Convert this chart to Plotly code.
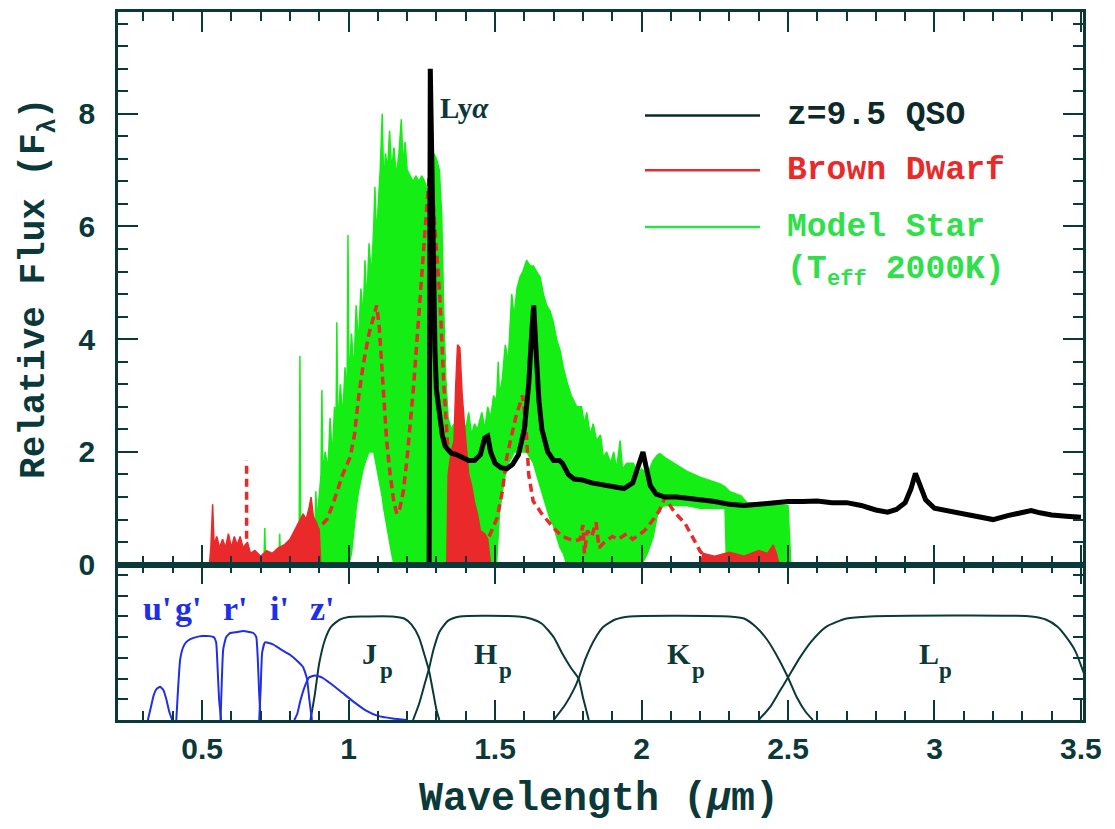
import plotly.graph_objects as go

# ---------------- data ----------------
# QSO z=9.5 spectrum (wavelength um, relative flux)
qso_wl = [0.32, 1.275, 1.279, 1.285, 1.29, 1.295, 1.30, 1.31, 1.32, 1.33, 1.35, 1.37, 1.39, 1.41, 1.43,
          1.45, 1.465, 1.475, 1.485, 1.50, 1.52, 1.54, 1.56, 1.58, 1.60, 1.615, 1.625, 1.632, 1.64, 1.65,
          1.66, 1.68, 1.70, 1.72, 1.73, 1.75, 1.77, 1.80, 1.83, 1.86, 1.90, 1.94, 1.97, 1.99, 2.005,
          2.015, 2.03, 2.05, 2.08, 2.12, 2.16, 2.20, 2.25, 2.30, 2.35, 2.40, 2.45, 2.50, 2.55, 2.60,
          2.65, 2.70, 2.75, 2.80, 2.84, 2.87, 2.90, 2.92, 2.935, 2.95, 2.97, 3.00, 3.05, 3.10, 3.15,
          3.20, 3.25, 3.30, 3.33, 3.36, 3.40, 3.45, 3.50]
qso_flux = [0.0, 0.0, 8.8, 6.5, 4.8, 3.8, 3.1, 2.6, 2.3, 2.1, 1.98, 1.95, 1.9, 1.85, 1.85,
            1.95, 2.25, 2.28, 2.0, 1.8, 1.72, 1.70, 1.78, 1.95, 2.4, 3.2, 4.1, 4.6, 3.8, 2.9,
            2.4, 2.0, 1.85, 1.85, 1.8, 1.6, 1.52, 1.5, 1.45, 1.42, 1.38, 1.35, 1.45, 1.75, 2.0,
            1.75, 1.4, 1.25, 1.2, 1.2, 1.18, 1.15, 1.12, 1.07, 1.05, 1.07, 1.1, 1.12, 1.12, 1.13,
            1.1, 1.1, 1.05, 0.97, 0.93, 0.98, 1.1, 1.35, 1.62, 1.4, 1.15, 1.0, 0.95, 0.9, 0.83,
            0.8, 0.87, 0.93, 0.96, 0.92, 0.88, 0.86, 0.84]

# Model star (Teff 2000K): upper and lower edge of the noisy spectrum
star_wl = [0.700, 0.711, 0.714, 0.717, 0.762, 0.765, 0.768, 0.800, 0.803, 0.806, 0.831, 0.834, 0.837,
           0.870, 0.873, 0.876, 0.885, 0.888, 0.893, 0.900, 0.906, 0.909, 0.912, 0.920, 0.930, 0.937,
           0.945, 0.952, 0.957, 0.960, 0.963, 0.972, 0.980, 0.988, 0.995, 0.998, 1.001, 1.010, 1.018,
           1.026, 1.034, 1.042, 1.050, 1.056, 1.062, 1.070, 1.078, 1.086, 1.090, 1.095, 1.102, 1.108,
           1.115, 1.120, 1.126, 1.133, 1.140, 1.147, 1.155, 1.163, 1.172, 1.180, 1.186, 1.193, 1.200,
           1.210, 1.220, 1.230, 1.240, 1.250, 1.260, 1.270, 1.280, 1.290, 1.300, 1.310, 1.318, 1.325,
           1.332, 1.340, 1.350, 1.360, 1.370, 1.380, 1.390, 1.400, 1.410, 1.420, 1.430, 1.440, 1.450,
           1.455, 1.465, 1.475, 1.485, 1.495, 1.505, 1.511, 1.515, 1.525, 1.535, 1.545, 1.557, 1.565,
           1.575, 1.585, 1.595, 1.608, 1.620, 1.631, 1.642, 1.654, 1.665, 1.676, 1.688, 1.699, 1.710,
           1.722, 1.733, 1.745, 1.760, 1.779, 1.795, 1.805, 1.813, 1.825, 1.835, 1.847, 1.860, 1.870,
           1.881, 1.895, 1.905, 1.915, 1.927, 1.935, 1.950, 1.972, 1.990, 2.000, 2.020, 2.040, 2.055,
           2.063, 2.080, 2.110, 2.154, 2.200, 2.268, 2.285, 2.290, 2.300, 2.340, 2.360, 2.400, 2.450,
           2.500, 2.510]
star_top = [0.0, 0.0, 0.65, 0.0, 0.0, 0.55, 0.0, 0.0, 0.35, 0.0, 0.0, 3.7, 0.0,
            0.3, 1.1, 0.4, 0.6, 1.3, 0.8, 1.2, 1.6, 3.1, 1.6, 2.0, 1.7, 2.6,
            1.9, 2.8, 2.2, 4.3, 2.4, 3.2, 2.6, 3.5, 3.0, 5.85, 3.2, 4.1, 3.4,
            4.6, 3.9, 4.9, 4.4, 5.4, 4.6, 5.7, 5.1, 6.0, 6.7, 5.8, 6.4, 7.0,
            8.0, 6.7, 7.3, 7.0, 7.7, 7.0, 7.4, 6.9, 7.3, 7.9, 7.1, 7.5, 7.0,
            6.9, 6.8, 6.9, 6.8, 6.9, 6.8, 6.6, 6.9, 7.3, 7.2, 7.0, 6.2, 4.5,
            3.3, 2.6, 2.4, 2.5, 2.3, 2.5, 2.6, 2.4, 2.7, 2.3, 2.5, 2.4, 2.6,
            2.7, 2.4, 2.8, 2.6, 3.0, 2.9, 3.6, 3.0, 3.3, 3.9, 3.6, 4.8, 4.4,
            4.9, 5.1, 5.2, 5.4, 5.3, 5.3, 5.2, 5.1, 4.8, 4.6, 4.5, 4.3, 4.0,
            3.8, 3.5, 3.25, 3.0, 2.8, 2.8, 2.5, 2.7, 2.3, 2.5, 2.2, 2.3, 1.9,
            2.0, 1.8, 2.0, 1.7, 2.2, 1.7, 1.8, 1.8, 1.6, 1.7, 1.6, 1.85, 1.95,
            1.97, 1.9, 1.8, 1.66, 1.55, 1.43, 1.38, 1.35, 1.3, 1.22, 1.1, 1.08, 1.06,
            1.05, 0.0]
star_bot = [0.0, 0.0, 0.0, 0.0, 0.0, 0.0, 0.0, 0.0, 0.0, 0.0, 0.0, 0.0, 0.0,
            0.0, 0.0, 0.0, 0.0, 0.0, 0.0, 0.0, 0.0, 0.0, 0.0, 0.0, 0.0, 0.0,
            0.0, 0.0, 0.0, 0.0, 0.0, 0.0, 0.0, 0.0, 0.0, 0.0, 0.0, 0.2, 0.6,
            1.0, 1.3, 1.5, 1.7, 1.8, 1.9, 2.0, 2.0, 2.0, 1.9, 1.8, 1.6, 1.4,
            1.2, 1.0, 0.8, 0.6, 0.4, 0.2, 0.0, 0.0, 0.0, 0.0, 0.0, 0.0, 0.0,
            0.0, 0.0, 0.0, 0.0, 0.0, 0.0, 0.0, 0.0, 0.0, 0.0, 0.0, 0.0, 0.0,
            0.0, 0.0, 0.0, 0.0, 0.0, 0.0, 0.0, 0.0, 0.0, 0.0, 0.0, 0.0, 0.0,
            0.0, 0.0, 0.0, 0.0, 0.0, 0.0, 0.5, 0.9, 1.3, 1.6, 1.8, 1.9, 2.0,
            2.0, 2.0, 2.0, 2.0, 1.9, 1.8, 1.6, 1.4, 1.2, 1.0, 0.8, 0.7, 0.5,
            0.3, 0.2, 0.0, 0.0, 0.0, 0.0, 0.0, 0.0, 0.0, 0.0, 0.0, 0.0, 0.0,
            0.0, 0.0, 0.0, 0.0, 0.0, 0.0, 0.0, 0.0, 0.0, 0.0, 0.2, 0.5, 0.9,
            1.0, 1.05, 1.05, 1.05, 1.0, 1.0, 1.0, 0.0, 0.0, 0.0, 0.0, 0.0, 0.0,
            0.0, 0.0]

# Brown dwarf: smooth dashed part (None = break)
bd_wl = [0.652, 0.652, None,
         0.880, 0.900, 0.926, 0.945, 0.960, 0.980, 1.005, 1.020, 1.035, 1.050, 1.070, 1.085, 1.096,
         1.105, 1.119, 1.130, 1.142, 1.155, 1.165, 1.175, 1.187, 1.200, 1.221, 1.244, 1.260, 1.275,
         1.285, 1.300, 1.312, 1.325, 1.340, None,
         1.480, 1.507, 1.525, 1.540, 1.570, 1.594, 1.605, 1.615, 1.630, 1.660, 1.700, 1.730, 1.770,
         1.790, 1.800, 1.805, 1.815, 1.830, 1.845, 1.855, 1.870, 1.900, 1.920, 1.950, 1.970, 2.010,
         2.040, 2.060, 2.080, 2.110, 2.150, 2.180, 2.200, 2.220, 2.250]
bd_flux = [0.0, 1.85, None,
           0.55, 0.65, 0.8, 1.05, 1.3, 1.6, 1.9, 2.3, 3.0, 3.55, 4.1, 4.4, 4.6,
           4.2, 3.1, 2.2, 1.6, 1.1, 0.9, 1.0, 1.3, 1.9, 3.1, 4.8, 6.0, 6.9,
           6.7, 5.6, 4.7, 3.2, 2.0, None,
           0.5, 0.83, 1.3, 1.9, 2.6, 3.0, 2.5, 1.6, 1.13, 0.9, 0.65, 0.5, 0.42,
           0.45, 0.7, 0.2, 0.6, 0.5, 0.75, 0.3, 0.38, 0.5, 0.45, 0.55, 0.45, 0.6,
           0.8, 0.95, 1.19, 0.95, 0.72, 0.42, 0.24, 0.12, 0.1]

# Brown dwarf: noisy (filled-looking) parts
bdn_wl = [0.525, 0.530, 0.536, 0.541, 0.550, 0.560, 0.570, 0.580, 0.590, 0.600, 0.610, 0.620, 0.630,
          0.640, 0.655, 0.665, 0.680, 0.700, 0.720, 0.740, 0.760, 0.780, 0.800, 0.815, 0.830, 0.845,
          0.855, 0.865, 0.872, 0.880, 0.890, 0.900, 0.905, None,
          1.335, 1.340, 1.350, 1.360, 1.366, 1.372, 1.380, 1.388, 1.400, 1.410, 1.420, 1.430, 1.440,
          1.450, 1.465, 1.475, 1.485, None,
          2.200, 2.210, 2.250, 2.300, 2.350, 2.400, 2.430, 2.450, 2.460, 2.470]
bdn_flux = [0.0, 0.3, 1.07, 0.35, 0.5, 0.3, 0.45, 0.3, 0.55, 0.3, 0.5, 0.35, 0.5,
            0.3, 0.4, 0.2, 0.25, 0.15, 0.25, 0.2, 0.3, 0.35, 0.45, 0.6, 0.75, 0.9,
            0.8, 1.0, 1.2, 0.85, 0.75, 0.6, 0.0, None,
            0.0, 1.6, 2.0, 2.2, 3.2, 3.9, 3.85, 3.0, 2.2, 1.6, 1.4, 1.1, 0.9,
            0.6, 0.55, 0.45, 0.0, None,
            0.0, 0.2, 0.15, 0.22, 0.15, 0.25, 0.2, 0.35, 0.2, 0.0]

# Filter transmission curves (bottom panel)
J_wl = [0.87, 0.885, 0.90, 0.92, 0.94, 0.97, 1.00, 1.05, 1.15, 1.19, 1.215, 1.24, 1.26, 1.275, 1.29, 1.30, 1.31]
J_t = [0.0, 0.25, 0.55, 0.78, 0.9, 0.97, 0.995, 1.0, 1.0, 0.98, 0.92, 0.8, 0.62, 0.47, 0.25, 0.1, 0.0]
H_wl = [1.22, 1.24, 1.26, 1.275, 1.29, 1.31, 1.34, 1.38, 1.58, 1.62, 1.66, 1.70, 1.73, 1.76, 1.785, 1.80, 1.82]
H_t = [0.0, 0.15, 0.35, 0.5, 0.68, 0.85, 0.96, 1.0, 1.0, 0.98, 0.93, 0.8, 0.64, 0.5, 0.4, 0.22, 0.0]
K_wl = [1.70, 1.74, 1.77, 1.785, 1.81, 1.84, 1.87, 1.91, 1.96, 2.30, 2.35, 2.39, 2.43, 2.47, 2.50, 2.53, 2.56, 2.585]
K_t = [0.0, 0.15, 0.3, 0.4, 0.6, 0.78, 0.9, 0.97, 1.0, 1.0, 0.98, 0.9, 0.77, 0.58, 0.41, 0.22, 0.08, 0.0]
L_wl = [2.40, 2.44, 2.47, 2.50, 2.54, 2.58, 2.63, 2.70, 2.78, 3.33, 3.38, 3.42, 3.45, 3.48, 3.51]
L_t = [0.0, 0.13, 0.27, 0.41, 0.6, 0.76, 0.9, 0.98, 1.0, 1.0, 0.97, 0.9, 0.8, 0.67, 0.45]

u_wl = [0.315, 0.325, 0.335, 0.345, 0.357, 0.368, 0.378, 0.388, 0.398]
u_t = [0.0, 0.12, 0.24, 0.3, 0.32, 0.29, 0.2, 0.08, 0.0]
g_wl = [0.412, 0.418, 0.425, 0.435, 0.445, 0.46, 0.48, 0.50, 0.525, 0.54, 0.548, 0.553, 0.558, 0.565]
g_t = [0.0, 0.3, 0.58, 0.7, 0.75, 0.78, 0.8, 0.81, 0.81, 0.8, 0.75, 0.5, 0.2, 0.0]
r_wl = [0.563, 0.567, 0.572, 0.582, 0.596, 0.62, 0.64, 0.66, 0.675, 0.685, 0.69, 0.695, 0.70]
r_t = [0.0, 0.35, 0.68, 0.8, 0.84, 0.85, 0.86, 0.85, 0.84, 0.8, 0.6, 0.25, 0.0]
i_wl = [0.695, 0.70, 0.705, 0.715, 0.742, 0.77, 0.80, 0.825, 0.845, 0.858, 0.866, 0.875]
i_t = [0.0, 0.3, 0.65, 0.75, 0.73, 0.68, 0.63, 0.57, 0.51, 0.4, 0.2, 0.0]
z_wl = [0.815, 0.825, 0.835, 0.85, 0.865, 0.885, 0.91, 0.94, 0.98, 1.02, 1.06, 1.10, 1.15, 1.20]
z_t = [0.0, 0.06, 0.18, 0.32, 0.41, 0.43, 0.41, 0.35, 0.26, 0.17, 0.09, 0.04, 0.015, 0.0]

sdss_labels = ["u'", "g'", "r'", "i'", "z'"]
sdss_label_wl = [0.345, 0.452, 0.615, 0.763, 0.911]
nir_labels = ["J", "H", "K", "L"]
nir_label_wl = [1.073, 1.468, 2.128, 2.98]
nir_sub_wl = [1.128, 1.537, 2.193, 3.037]

legend_labels = ["z=9.5 QSO", "Brown Dwarf", "Model Star"]

# ---------------- styling ----------------
AX = "#0b3838"
GREEN = "#14ee14"
RED = "#ea2a2a"
BLUE = "#1f2fe8"
LEG_GREEN = "#2ee04a"

# page geometry (the page body adds an 8 px offset)
W, H = 1099, 813
ML, MR, MT, MB = 110, 24, 1, 101
plot_h = H - MT - MB
bottom_frac = 156 / plot_h


def px_to_paper(px, py):
    return (px - 118) / 965.0, (720 - py) / float(plot_h)


fig = go.Figure()

# model star as band between lower and upper edge
poly_x = list(star_wl) + list(reversed(star_wl))
poly_y = list(star_top) + list(reversed(star_bot))
fig.add_trace(go.Scatter(x=poly_x, y=poly_y, mode="lines", fill="toself",
                         fillcolor=GREEN, line=dict(color=GREEN, width=1.5),
                         xaxis="x", yaxis="y", hoverinfo="skip"))
# brown dwarf noisy parts
fig.add_trace(go.Scatter(x=bdn_wl, y=bdn_flux, mode="lines", fill="toself",
                         fillcolor=RED, line=dict(color=RED, width=1.5),
                         xaxis="x", yaxis="y", hoverinfo="skip"))
# brown dwarf dashed line
fig.add_trace(go.Scatter(x=bd_wl, y=bd_flux, mode="lines",
                         line=dict(color=RED, width=3.5, dash="8px,5px"),
                         xaxis="x", yaxis="y", hoverinfo="skip"))
# QSO
fig.add_trace(go.Scatter(x=qso_wl, y=qso_flux, mode="lines",
                         line=dict(color="black", width=5),
                         xaxis="x", yaxis="y", hoverinfo="skip"))

# filters
for wl, t in [(J_wl, J_t), (H_wl, H_t), (K_wl, K_t), (L_wl, L_t)]:
    fig.add_trace(go.Scatter(x=wl, y=t, mode="lines", line=dict(color=AX, width=2, shape="spline", smoothing=0.6),
                             xaxis="x2", yaxis="y2", hoverinfo="skip"))
for wl, t in [(u_wl, u_t), (g_wl, g_t), (r_wl, r_t), (i_wl, i_t), (z_wl, z_t)]:
    fig.add_trace(go.Scatter(x=wl, y=t, mode="lines", line=dict(color=BLUE, width=2, shape="spline", smoothing=0.4),
                             xaxis="x2", yaxis="y2", hoverinfo="skip"))

ann = []
for lab, wl in zip(sdss_labels, sdss_label_wl):
    ann.append(dict(x=wl, y=1.08, xref="x2", yref="y2", text=lab, showarrow=False,
                    font=dict(family="Liberation Serif", size=34, color=BLUE, weight="bold"),
                    xanchor="center", yanchor="middle"))
for lab, wl, swl in zip(nir_labels, nir_label_wl, nir_sub_wl):
    ann.append(dict(x=wl, y=0.64, xref="x2", yref="y2", text=lab, showarrow=False,
                    font=dict(family="Liberation Serif", size=30, color=AX, weight="bold"),
                    xanchor="center", yanchor="middle"))
    ann.append(dict(x=swl, y=0.48, xref="x2", yref="y2", text="p", showarrow=False,
                    font=dict(family="Liberation Serif", size=23, color=AX, weight="bold"),
                    xanchor="center", yanchor="middle"))
ann.append(dict(x=1.305, y=8.1, xref="x", yref="y", text="Ly<i>α</i>", showarrow=False,
                font=dict(family="Liberation Serif", size=29, color=AX, weight="bold"),
                xanchor="left", yanchor="middle"))

# legend (manual)
leg_py = [113, 168, 225]
leg_col = ["#0d2a2a", RED, LEG_GREEN]
shapes = []
lx0, _ = px_to_paper(645, 0)
lx1, _ = px_to_paper(760, 0)
tx, _ = px_to_paper(785, 0)
for py, col, lab in zip(leg_py, leg_col, legend_labels):
    _, yy = px_to_paper(0, py)
    shapes.append(dict(type="line", xref="paper", yref="paper", x0=lx0, x1=lx1, y0=yy, y1=yy,
                       line=dict(color=col, width=2.5)))
    ann.append(dict(x=tx, y=yy, xref="paper", yref="paper", text=lab, showarrow=False,
                    font=dict(family="Liberation Mono", size=33, color=col, weight="bold"),
                    xanchor="left", yanchor="middle"))
# "(T_eff 2000K)" built from pieces (subscript as its own smaller text)
leg_font = 33
sub_font = 22
ch = 0.6 * leg_font
_, ty = px_to_paper(0, 268)
_, tys = px_to_paper(0, 278)
ann.append(dict(x=tx, y=ty, xref="paper", yref="paper", text="(T", showarrow=False,
                font=dict(family="Liberation Mono", size=leg_font, color=LEG_GREEN, weight="bold"),
                xanchor="left", yanchor="middle"))
sx, _ = px_to_paper(785 + 2 * ch, 0)
ann.append(dict(x=sx, y=tys, xref="paper", yref="paper", text="eff", showarrow=False,
                font=dict(family="Liberation Mono", size=sub_font, color=LEG_GREEN, weight="bold"),
                xanchor="left", yanchor="middle"))
rx, _ = px_to_paper(785 + 2 * ch + 3 * 0.6 * sub_font, 0)
ann.append(dict(x=rx, y=ty, xref="paper", yref="paper", text=" 2000K)", showarrow=False,
                font=dict(family="Liberation Mono", size=leg_font, color=LEG_GREEN, weight="bold"),
                xanchor="left", yanchor="middle"))

# y axis title, rotated, built from pieces: "Relative Flux (F" + sub lambda + ")"
yt_font = 36
yt_sub = 25
cw = 0.6 * yt_font
base_y = 477  # bottom end of the rotated title (page px)
p1x, p1y = px_to_paper(35, base_y - 16 * cw / 2)
ann.append(dict(x=p1x, y=p1y, xref="paper", yref="paper", text="Relative Flux (F",
                textangle=-90, showarrow=False,
                font=dict(family="Liberation Mono", size=yt_font, color=AX, weight="bold"),
                xanchor="center", yanchor="middle"))
p2x, p2y = px_to_paper(48, base_y - 16 * cw - 0.6 * yt_sub / 2)
ann.append(dict(x=p2x, y=p2y, xref="paper", yref="paper", text="λ",
                textangle=-90, showarrow=False,
                font=dict(family="Liberation Mono", size=yt_sub, color=AX, weight="bold"),
                xanchor="center", yanchor="middle"))
p3x, p3y = px_to_paper(35, base_y - 16 * cw - 0.6 * yt_sub - cw / 2)
ann.append(dict(x=p3x, y=p3y, xref="paper", yref="paper", text=")",
                textangle=-90, showarrow=False,
                font=dict(family="Liberation Mono", size=yt_font, color=AX, weight="bold"),
                xanchor="center", yanchor="middle"))

xx, xy = px_to_paper(599, 800)
ann.append(dict(x=xx, y=xy, xref="paper", yref="paper", text="Wavelength (<i>μ</i>m)",
                showarrow=False,
                font=dict(family="Liberation Mono", size=40, color=AX, weight="bold"),
                xanchor="center", yanchor="middle"))

xcommon = dict(range=[0.213, 3.507], tick0=0, dtick=0.5, ticks="inside", ticklen=20, tickwidth=2,
               tickcolor=AX, mirror="allticks", showline=True, linewidth=2.5, linecolor=AX,
               showgrid=False, zeroline=False,
               minor=dict(dtick=0.1, tick0=0, ticks="inside", ticklen=9, tickwidth=2, tickcolor=AX, showgrid=False))

ytop = (564 - (8 + MT)) / 56.6

fig.update_layout(
    width=W, height=H,
    margin=dict(l=ML, r=MR, t=MT, b=MB),
    paper_bgcolor="white", plot_bgcolor="white",
    showlegend=False,
    xaxis=dict(domain=[0, 1], anchor="y", showticklabels=False, matches="x2", **xcommon),
    xaxis2=dict(domain=[0, 1], anchor="y2", showticklabels=True,
                tickfont=dict(family="Liberation Sans", size=30, color=AX, weight="bold"), **xcommon),
    yaxis=dict(domain=[bottom_frac, 1], anchor="x", range=[0, ytop], tick0=0, dtick=2, ticks="inside",
               ticklen=20, tickwidth=2, tickcolor=AX, mirror="allticks", showline=True, linewidth=2.5,
               linecolor=AX, showgrid=False, zeroline=False,
               tickfont=dict(family="Liberation Sans", size=30, color=AX, weight="bold"),
               ticklabelstandoff=14,
               minor=dict(dtick=0.4, tick0=0, ticks="inside", ticklen=10, tickwidth=2, tickcolor=AX, showgrid=False)),
    yaxis2=dict(domain=[0, bottom_frac], anchor="x2", range=[0, 1.5], tick0=0, dtick=0.2, ticks="inside",
                ticklen=10, tickwidth=2, tickcolor=AX, mirror="allticks", showline=True, linewidth=2.5,
                linecolor=AX, showgrid=False, zeroline=False, showticklabels=False),
    annotations=ann,
    shapes=shapes,
)

fig.write_html("out.html")
